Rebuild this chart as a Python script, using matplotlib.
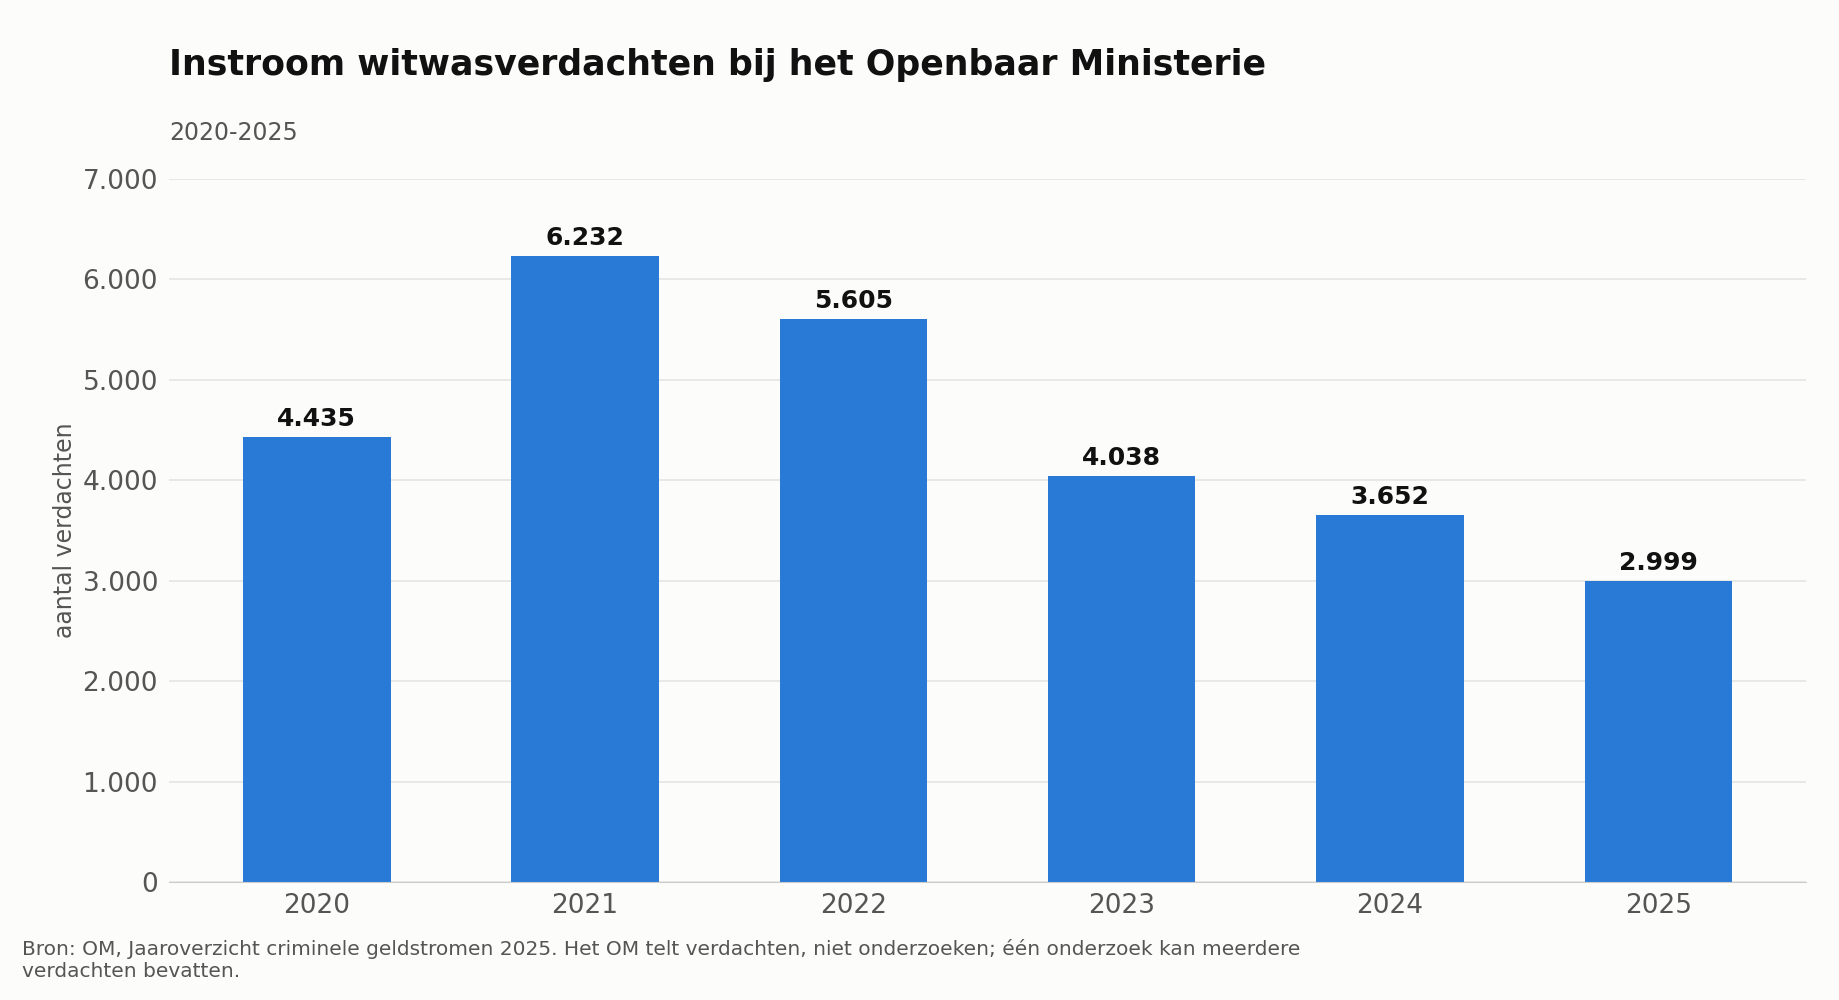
import matplotlib.pyplot as plt

years = ["2020", "2021", "2022", "2023", "2024", "2025"]
counts = [4435, 6232, 5605, 4038, 3652, 2999]
yticks = [0, 1000, 2000, 3000, 4000, 5000, 6000, 7000]


def nl(v):
    return f"{v:,}".replace(",", ".")


bg = "#fcfcfb"
fig = plt.figure(figsize=(18.39, 10), dpi=100, facecolor=bg)
ax = fig.add_axes([0.092, 0.118, 0.89, 0.703], facecolor=bg)
x = range(len(years))
ax.bar(x, counts, 0.55, color="#2979d6", zorder=2)
for i, v in zip(x, counts):
    ax.text(i, v + 60, nl(v), ha="center", va="bottom", fontsize=18, fontweight="bold", color="#111")
ax.set_xlim(-0.55, len(years) - 0.45)
ax.set_ylim(0, 7000)
ax.set_yticks(yticks)
ax.set_yticklabels([nl(t) for t in yticks])
ax.set_xticks(list(x))
ax.set_xticklabels(years)
ax.tick_params(axis="both", labelsize=19, colors="#555", length=0, pad=8)
ax.grid(axis="y", color="#e4e4e4", lw=1.2, zorder=0)
ax.set_axisbelow(True)
for s in ["top", "right", "left"]:
    ax.spines[s].set_visible(False)
ax.spines["bottom"].set_color("#cccccc")
ax.set_ylabel("aantal verdachten", fontsize=17, color="#555")
fig.text(0.092, 0.935, "Instroom witwasverdachten bij het Openbaar Ministerie",
         fontsize=25, fontweight="bold", color="#111", va="center")
fig.text(0.092, 0.867, "2020-2025", fontsize=17, color="#555", va="center")
fig.text(0.012, 0.04, "Bron: OM, Jaaroverzicht criminele geldstromen 2025. Het OM telt verdachten, niet onderzoeken; één onderzoek kan meerdere\nverdachten bevatten.",
         fontsize=14.5, color="#555", va="center", linespacing=1.2)
fig.savefig("out.png", facecolor=bg)
